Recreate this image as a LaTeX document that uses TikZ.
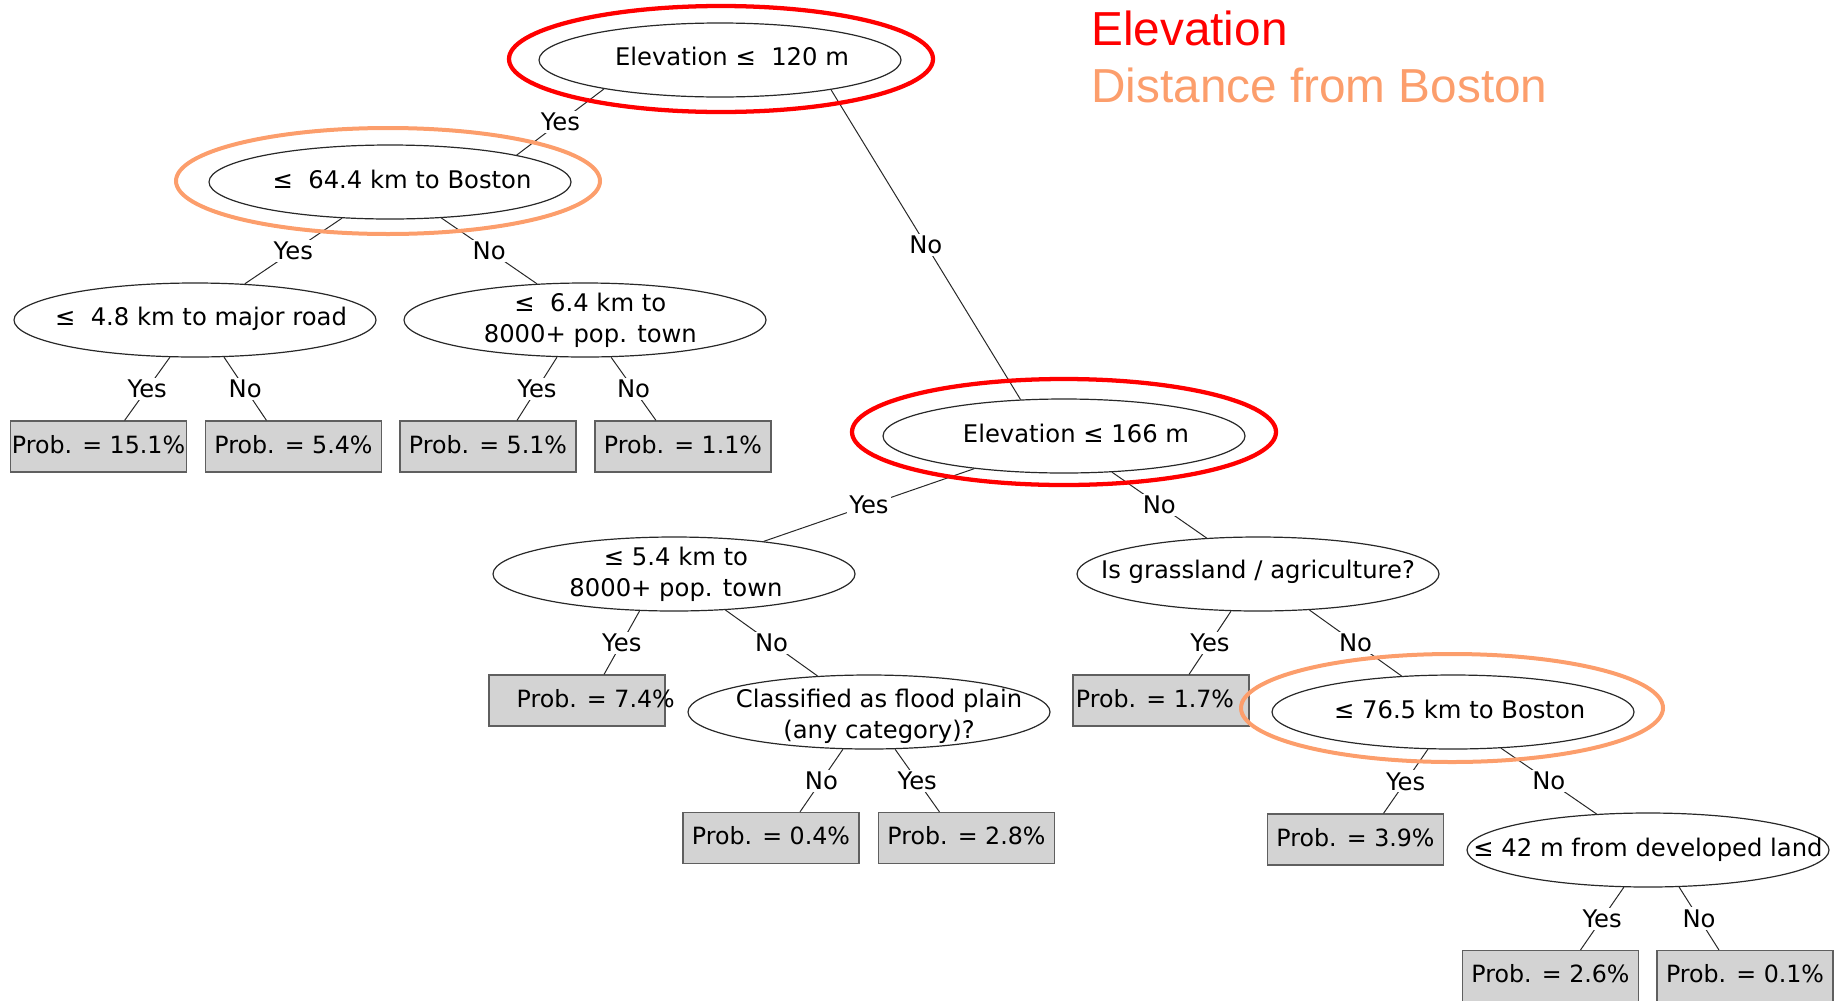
\documentclass[tikz,border=0pt]{standalone}
\usepackage{fontspec}
\setmainfont{DejaVu Sans}
\newfontfamily\legendfont{Liberation Sans}
\usetikzlibrary{shapes.geometric}
\definecolor{hlred}{RGB}{255,0,0}
\definecolor{hlorange}{RGB}{252,158,108}
\definecolor{leafgray}{RGB}{211,211,211}
\definecolor{boxline}{RGB}{95,95,95}
\definecolor{linegray}{RGB}{40,40,40}
\tikzset{
  x=0.75pt, y=-0.75pt,
  treefont/.style={font=\fontsize{18.2}{23.2}\selectfont},
  leaffont/.style={font=\fontsize{17.8}{22}\selectfont},
  dec/.style={ellipse, draw=linegray, line width=0.9pt, minimum width=271.5pt, minimum height=55.5pt, inner sep=0pt},
  dectext/.style={treefont, align=center, inner sep=0pt},
  leaf/.style={rectangle, draw=boxline, fill=leafgray, line width=0.9pt, minimum width=132pt, minimum height=38.25pt, inner sep=0pt},
  leaftext/.style={leaffont, inner sep=0pt, yshift=1.5pt},
  edge/.style={draw=linegray, line width=0.75pt},
  elab/.style={treefont, fill=white, inner sep=1.5pt, midway},
  hlr/.style={draw=hlred, line width=3.2pt},
  hlo/.style={draw=hlorange, line width=3pt},
  legend/.style={anchor=base west, inner sep=0pt, font=\legendfont\fontsize{35.8}{40}\selectfont},
}
\begin{document}
\begin{tikzpicture}
\useasboundingbox (0,0) rectangle (1837,1000);
% decision nodes
\node[dec, label={[dectext, xshift=9pt, yshift=2.5pt]center:Elevation ≤\ \ 120 m}] (root) at (720,60) {};
\node[dec, label={[dectext, xshift=9pt, yshift=2pt]center:≤\ \ 64.4 km to Boston}] (b64) at (390,182) {};
\node[dec, label={[dectext, xshift=4.5pt, yshift=1pt]center:≤\ \ 4.8 km to major road}] (r48) at (195,320) {};
\node[dec, label={[dectext, xshift=4pt, yshift=-0.5pt]center:{≤\ \ 6.4 km to\\8000+ pop. town}}] (t64) at (585,320) {};
\node[dec, label={[dectext, xshift=9pt, yshift=2pt]center:Elevation ≤ 166 m}] (e166) at (1064,436) {};
\node[dec, label={[dectext, xshift=1.5pt, yshift=0pt]center:{≤ 5.4 km to\\8000+ pop. town}}] (t54) at (674,574) {};
\node[dec, label={[dectext, yshift=1.5pt]center:Is grassland / agriculture?}] (grass) at (1258,574) {};
\node[dec, label={[dectext, xshift=7.5pt, yshift=-3.5pt]center:{Classified as flood plain\\(any category)?}}] (flood) at (869,712) {};
\node[dec, label={[dectext, xshift=5pt, yshift=2pt]center:≤ 76.5 km to Boston}] (b765) at (1453,712) {};
\node[dec, label={[dectext, yshift=0.5pt]center:≤ 42 m from developed land}] (d42) at (1648,850) {};
% leaves
\node[leaf, label={[leaftext]center:Prob. = 15.1\%}] (L151) at (98.5,446.5) {};
\node[leaf, label={[leaftext]center:Prob. = 5.4\%}] (L54) at (293.5,446.5) {};
\node[leaf, label={[leaftext]center:Prob. = 5.1\%}] (L51) at (488,446.5) {};
\node[leaf, label={[leaftext]center:Prob. = 1.1\%}] (L11) at (683,446.5) {};
\node[leaf, label={[leaftext, xshift=14pt]center:Prob. = 7.4\%}] (L74) at (577,700.5) {};
\node[leaf, label={[leaftext, xshift=-4.5pt]center:Prob. = 1.7\%}] (L17) at (1161,700.5) {};
\node[leaf, label={[leaftext]center:Prob. = 0.4\%}] (L04) at (771,838) {};
\node[leaf, label={[leaftext]center:Prob. = 2.8\%}] (L28) at (966.5,838) {};
\node[leaf, label={[leaftext]center:Prob. = 3.9\%}] (L39) at (1355.5,839.5) {};
\node[leaf, label={[leaftext]center:Prob. = 2.6\%}] (L26) at (1550.5,976) {};
\node[leaf, label={[leaftext]center:Prob. = 0.1\%}] (L01) at (1745,976) {};
% edges
\draw[edge] (root.-166.5) -- node[elab]{Yes} (b64.12.9);
\draw[edge] (root.-15.7) -- node[elab]{No} (e166.140);
\draw[edge] (b64.-143.7) -- node[elab]{Yes} (r48.36.7);
\draw[edge] (b64.-35.5) -- node[elab]{No} (t64.143);
\draw[edge] (r48.-124.8) -- node[elab]{Yes} (L151.45);
\draw[edge] (r48.-52.5) -- node[elab]{No} (L54.136);
\draw[edge] (t64.-127.2) -- node[elab]{Yes} (L51.42.8);
\draw[edge] (t64.-55.2) -- node[elab]{No} (L11.136.6);
\draw[edge] (e166.-160.5) -- node[elab]{Yes} (t54.20.7);
\draw[edge] (e166.-37) -- node[elab]{No} (grass.145.7);
\draw[edge] (t54.-133.3) -- node[elab]{Yes} (L74.44.4);
\draw[edge] (t54.-35) -- node[elab]{No} (flood.145.5);
\draw[edge] (flood.-125.4) -- node[elab]{No} (L04.42.3);
\draw[edge] (flood.-55.6) -- node[elab]{Yes} (L28.136.6);
\draw[edge] (grass.-126.9) -- node[elab]{Yes} (L17.43.4);
\draw[edge] (grass.-35.4) -- node[elab]{No} (b765.145.5);
\draw[edge] (b765.-124.4) -- node[elab]{Yes} (L39.43.4);
\draw[edge] (b765.-37.2) -- node[elab]{No} (d42.145.7);
\draw[edge] (d42.-123.8) -- node[elab]{Yes} (L26.41.8);
\draw[edge] (d42.-50.8) -- node[elab]{No} (L01.135.9);
% highlight rings
\draw[hlr] (721,59) ellipse [x radius=212, y radius=53];
\draw[hlo] (388,181) ellipse [x radius=212, y radius=53];
\draw[hlr] (1064,432) ellipse [x radius=212, y radius=53];
\draw[hlo] (1452,708) ellipse [x radius=211, y radius=54];
% legend
\node[legend, text=hlred] (legE) at (1091,45) {Elevation};
\node[legend, text=hlorange] (legD) at (1091,102) {Distance from Boston};
\end{tikzpicture}
\end{document}
